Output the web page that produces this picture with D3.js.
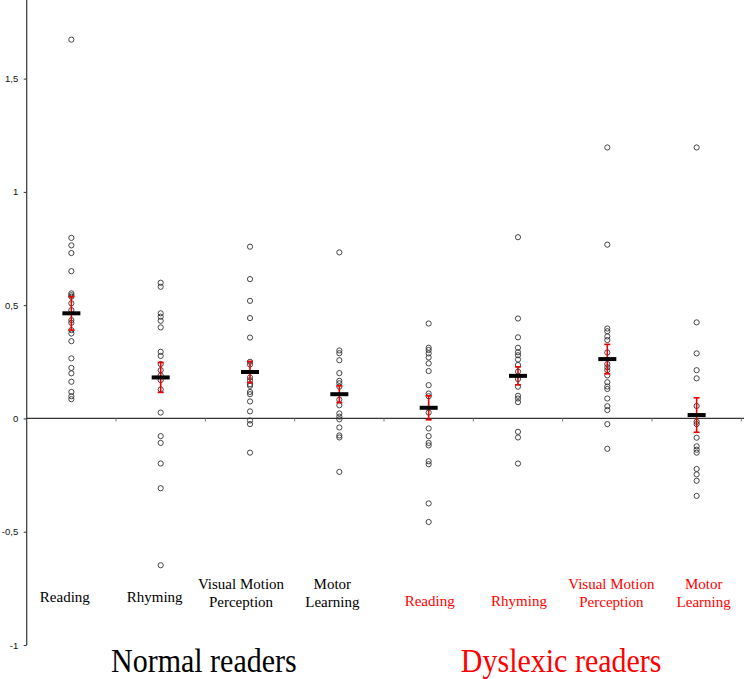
<!DOCTYPE html>
<html>
<head>
<meta charset="utf-8">
<script src="https://cdn.jsdelivr.net/npm/d3@7"></script>
<style>
  html, body { margin: 0; padding: 0; background: #fff; }
  svg { display: block; }
</style>
</head>
<body>
<svg id="chart" width="744" height="679"></svg>
<script>
// ---------------- DATA ----------------
const groups = ["Normal readers", "Dyslexic readers"];
const categories = ["Reading", "Rhyming", "Visual Motion Perception", "Motor Learning"];
const yTicks = [-1, -0.5, 0, 0.5, 1, 1.5];

const normalReading = [1.672, 0.797, 0.764, 0.730, 0.650, 0.552, 0.544, 0.537, 0.508, 0.478, 0.434, 0.422, 0.390, 0.375, 0.341, 0.265, 0.223, 0.199, 0.162, 0.117, 0.098, 0.085];
const normalRhyming = [0.599, 0.581, 0.464, 0.449, 0.431, 0.402, 0.294, 0.276, 0.240, 0.213, 0.190, 0.169, 0.128, 0.026, -0.078, -0.108, -0.199, -0.308, -0.648];
const normalVisual = [0.758, 0.615, 0.519, 0.443, 0.357, 0.250, 0.238, 0.181, 0.169, 0.151, 0.144, 0.117, 0.107, 0.075, 0.031, -0.009, -0.025, -0.151];
const normalMotor = [0.733, 0.300, 0.288, 0.257, 0.200, 0.166, 0.155, 0.140, 0.083, 0.058, 0.022, 0.008, -0.004, -0.040, -0.075, -0.084, -0.236];
const dyslexicReading = [0.419, 0.312, 0.302, 0.287, 0.269, 0.243, 0.209, 0.147, 0.110, 0.098, 0.026, -0.044, -0.078, -0.108, -0.119, -0.189, -0.202, -0.375, -0.457];
const dyslexicRhyming = [0.800, 0.441, 0.358, 0.312, 0.292, 0.279, 0.260, 0.236, 0.207, 0.174, 0.140, 0.100, 0.088, 0.072, -0.059, -0.084, -0.199];
const dyslexicVisual = [1.196, 0.767, 0.397, 0.385, 0.362, 0.346, 0.291, 0.240, 0.226, 0.213, 0.190, 0.160, 0.141, 0.130, 0.088, 0.054, 0.037, -0.025, -0.134];
const dyslexicMotor = [1.196, 0.424, 0.287, 0.213, 0.177, 0.055, -0.015, -0.025, -0.085, -0.123, -0.138, -0.151, -0.223, -0.247, -0.275, -0.342];

const means = [0.464, 0.181, 0.205, 0.107, 0.047, 0.188, 0.262, 0.015];
const errors = [0.074, 0.066, 0.047, 0.037, 0.053, 0.040, 0.065, 0.076];

const seriesValues = [normalReading, normalRhyming, normalVisual, normalMotor,
                      dyslexicReading, dyslexicRhyming, dyslexicVisual, dyslexicMotor];

// ---------------- LAYOUT ----------------
const groupColors = ["#000000", "#ff0000"];
const labelNudge = [-6.5, -6, -9, -7, 1, 1, 4, 7];
const lineBreaks = { "Visual Motion Perception": ["Visual Motion", "Perception"],
                     "Motor Learning": ["Motor", "Learning"] };

const columns = [];
groups.forEach((g, gi) => categories.forEach((c, ci) => {
  const i = gi * categories.length + ci;
  columns.push({ id: i, group: gi, label: c, values: seriesValues[i], mean: means[i], err: errors[i] });
}));

const svg = d3.select("#chart");
const x = d3.scaleBand().domain(columns.map(d => d.id)).range([26.7, 741.3]).padding(0);
const y = d3.scaleLinear().domain([-1, 1.5]).range([645, 78.6]);
const xg = d3.scaleBand().domain(groups).range([26.7, 741.3]);

// Y axis
const locale = d3.formatLocale({ decimal: ",", thousands: ".", grouping: [3], currency: ["", ""], minus: "-" });
const fmt = locale.format("");
svg.append("line")
  .attr("x1", x.range()[0]).attr("x2", x.range()[0])
  .attr("y1", y(y.invert(0))).attr("y2", y(-1))
  .attr("stroke", "#333").attr("stroke-width", 1.2);
const yAxis = svg.append("g")
  .attr("transform", `translate(${x.range()[0]},0)`)
  .call(d3.axisLeft(y).tickValues(yTicks).tickFormat(fmt).tickSize(3).tickPadding(5.5).tickSizeOuter(0));
yAxis.select(".domain").remove();
yAxis.selectAll(".tick line").attr("stroke", "#333");
yAxis.selectAll(".tick text")
  .attr("font-family", "Liberation Sans, Arial, sans-serif")
  .attr("font-size", 9.5).attr("fill", "#111");

// X axis at zero
svg.append("line")
  .attr("x1", x.range()[0]).attr("x2", 744)
  .attr("y1", y(0)).attr("y2", y(0))
  .attr("stroke", "#333").attr("stroke-width", 1.2);
svg.append("g").selectAll("line")
  .data(columns.slice(1).concat([{ id: "end" }]))
  .join("line")
  .attr("x1", d => d.id === "end" ? x.range()[1] : x(d.id))
  .attr("x2", d => d.id === "end" ? x.range()[1] : x(d.id))
  .attr("y1", y(0)).attr("y2", y(0) + 3)
  .attr("stroke", "#777").attr("stroke-width", 1);

// Points
const cols = svg.append("g").selectAll("g.col").data(columns).join("g").attr("class", "col");
cols.selectAll("circle")
  .data(d => d.values.map(v => ({ id: d.id, v })))
  .join("circle")
  .attr("cx", d => x(d.id) + x.bandwidth() / 2)
  .attr("cy", d => y(d.v))
  .attr("r", 2.6)
  .attr("fill", "none")
  .attr("stroke", "#333")
  .attr("stroke-width", 0.9);

// Error bars
cols.append("line")
  .attr("x1", d => x(d.id) + x.bandwidth() / 2).attr("x2", d => x(d.id) + x.bandwidth() / 2)
  .attr("y1", d => y(d.mean + d.err)).attr("y2", d => y(d.mean - d.err))
  .attr("stroke", "#ee0000").attr("stroke-width", 1.6);
[1, -1].forEach(s => {
  cols.append("line")
    .attr("x1", d => x(d.id) + x.bandwidth() / 2 - 3).attr("x2", d => x(d.id) + x.bandwidth() / 2 + 3)
    .attr("y1", d => y(d.mean + s * d.err)).attr("y2", d => y(d.mean + s * d.err))
    .attr("stroke", "#ee0000").attr("stroke-width", 1.6);
});

// Mean bars
cols.append("rect")
  .attr("x", d => x(d.id) + x.bandwidth() / 2 - 9)
  .attr("y", d => y(d.mean) - 2)
  .attr("width", 18).attr("height", 4)
  .attr("fill", "#000");

// Category labels
const labels = svg.append("g").selectAll("text.cat").data(columns).join("text")
  .attr("class", "cat")
  .attr("font-family", "Liberation Serif, Times New Roman, serif")
  .attr("font-size", 15)
  .attr("text-anchor", "middle")
  .attr("fill", d => groupColors[d.group])
  .attr("x", d => x(d.id) + x.bandwidth() / 2 + labelNudge[d.id]);
labels.each(function (d) {
  const lines = lineBreaks[d.label] || [d.label];
  const sel = d3.select(this);
  if (lines.length === 1) {
    sel.append("tspan").attr("x", sel.attr("x")).attr("y", d.group === 0 ? 602 : 606).text(lines[0]);
  } else {
    lines.forEach((l, li) => sel.append("tspan").attr("x", sel.attr("x")).attr("y", 589 + li * 17.5).text(l));
  }
});

// Group labels (slightly tall glyphs as in the reference)
svg.append("g").selectAll("text.grp").data(groups).join("text")
  .attr("class", "grp")
  .attr("transform", d => `translate(${xg(d) + xg.bandwidth() / 2 - 1.5},672) scale(1,1.15)`)
  .attr("text-anchor", "middle")
  .attr("font-family", "Liberation Serif, Times New Roman, serif")
  .attr("font-size", 30)
  .attr("fill", (d, i) => groupColors[i])
  .text(d => d);
</script>
</body>
</html>
